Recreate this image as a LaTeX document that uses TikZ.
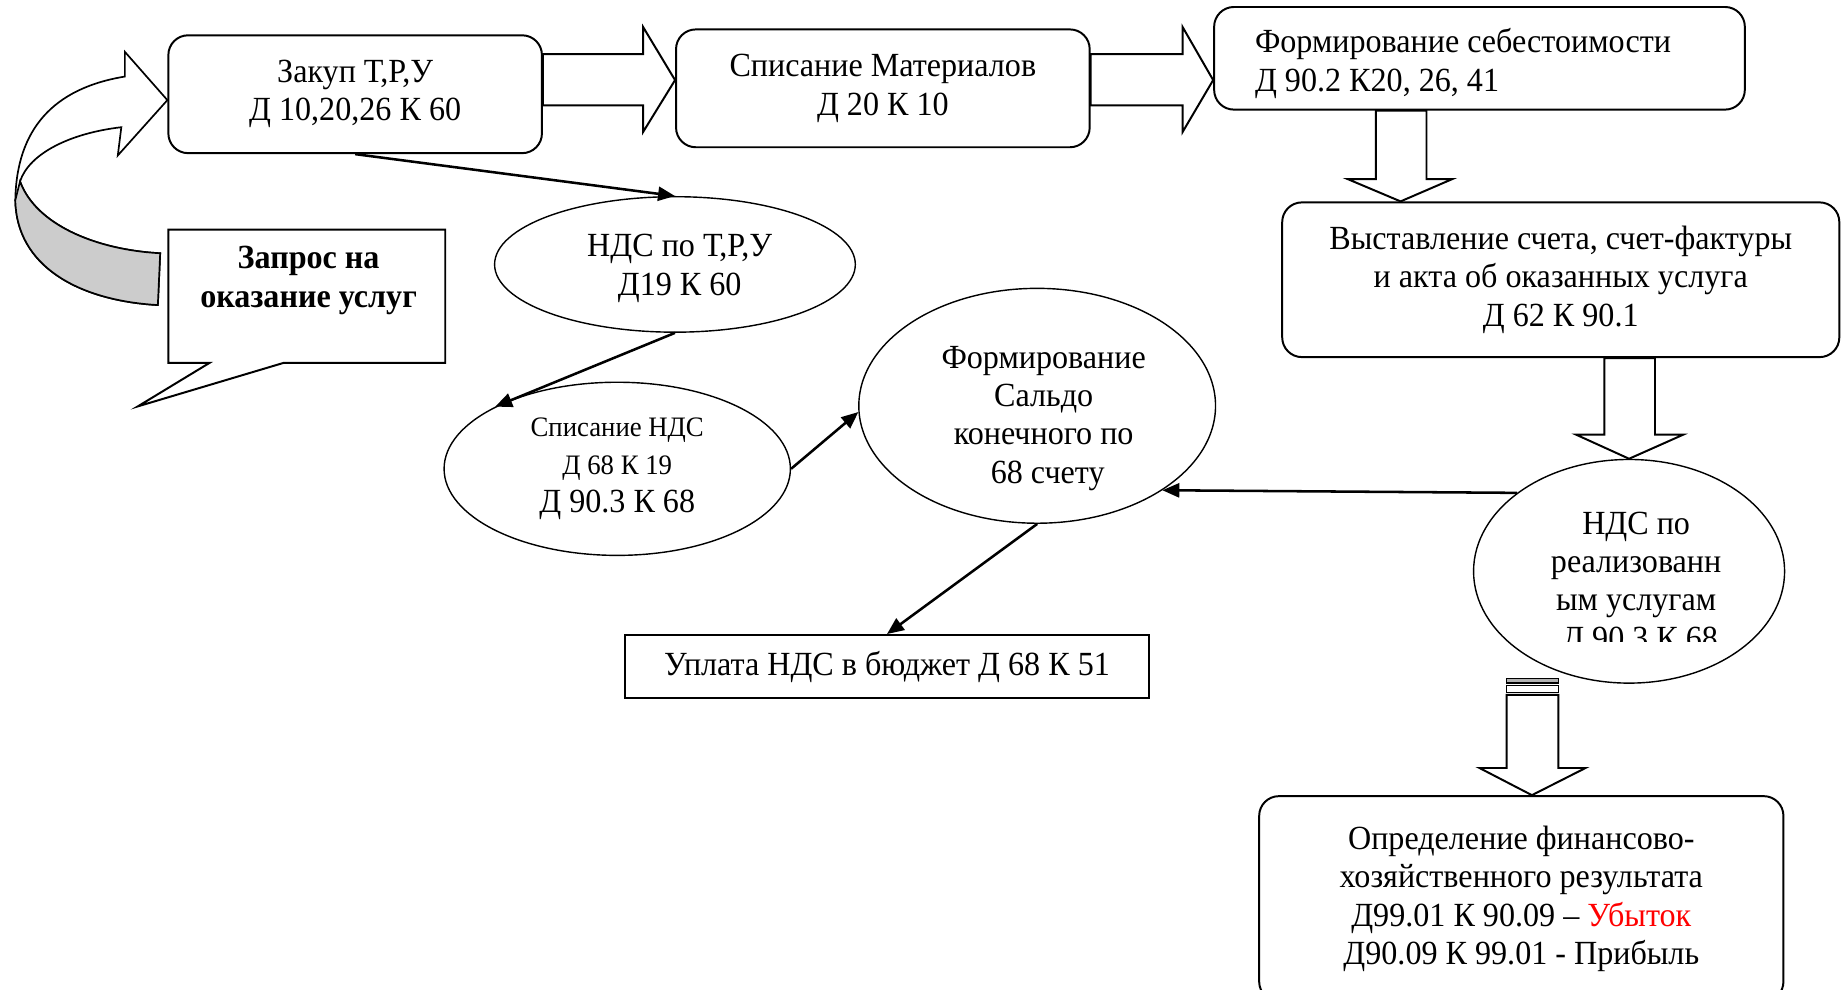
\documentclass[tikz,border=0pt]{standalone}
\usepackage{fontspec}
\setmainfont{Liberation Serif}[FakeStretch=0.95]
\usetikzlibrary{shapes.geometric,arrows.meta}

\newcommand{\mainsize}{\fontsize{12}{13.6}\selectfont}
\newcommand{\smallsize}{\fontsize{10}{11}\selectfont}

\tikzset{
	box/.style={draw,rounded corners=7pt,line width=0.7pt,align=center,font=\mainsize,inner sep=0pt},
	flatbox/.style={draw,line width=0.7pt,align=center,font=\mainsize,inner sep=0pt},
	oval/.style={draw,ellipse,line width=0.5pt,align=center,font=\mainsize,inner sep=0pt},
	fat/.style={draw,fill=white,line width=0.7pt},
	link/.style={->,line width=0.9pt,>={Triangle[length=6pt,width=5pt]}}
}

\begin{document}
\begin{tikzpicture}[x=0.0147cm,y=-0.0147cm]
		\useasboundingbox (0,0) rectangle (1568,840);
		\node[box,minimum width=4.66cm,minimum height=1.47cm] (zakup) at (301.5,80) {Закуп Т,Р,У\\ Д 10,20,26 К 60};
		\node[box,minimum width=5.16cm,minimum height=1.47cm] (spisanie) at (749.5,75) {Списание Материалов\\ Д 20 К 10};
		\node[box,minimum width=6.62cm,minimum height=1.28cm] (sebest) at (1256,49.5) {};
		\node[align=left,font=\mainsize,anchor=west] (sebesttext) at (1057,54) {Формирование себестоимости\\ Д 90.2 К20, 26, 41};
		\node[box,minimum width=6.95cm,minimum height=1.93cm] (schet) at (1325,237.5) {Выставление счета, счет-фактуры\\ и акта об оказанных услуга\\ Д 62 К 90.1};
		\node[box,minimum width=6.54cm,minimum height=2.56cm] (itog) at (1291.5,763) {Определение финансово-\\ хозяйственного результата\\ Д99.01 К 90.09 – \textcolor{red}{Убыток}\\ Д90.09 К 99.01 - Прибыль};
		\node[flatbox,minimum width=6.53cm,minimum height=0.79cm] (uplata) at (753,566) {Уплата НДС в бюджет Д 68 К 51};

		\node[oval,minimum width=4.50cm,minimum height=1.69cm] (ndsvh) at (573,224.5) {};
		\node[align=center,font=\mainsize] (ndsvhtext) at (577,228) {НДС по Т,Р,У\\ Д19 К 60};
		\node[oval,minimum width=4.32cm,minimum height=2.16cm] (spisnds) at (524,398) {\smallsize Списание НДС\\ \smallsize Д 68 К 19\\ Д 90.3 К 68};
		\node[oval,minimum width=4.45cm,minimum height=2.93cm] (saldo) at (880.5,344.5) {};
		\node[align=center,font=\mainsize] (saldotext) at (886,355) {Формирование\\ Сальдо\\ конечного по\\ \ 68 счету};
		\node[oval,minimum width=3.88cm,minimum height=2.79cm] (ndsreal) at (1383,485) {};
		\begin{scope}
			\clip (1250,380) rectangle (1520,545);
			\node[align=center,font=\mainsize] (ndsrealtext) at (1389,496) {НДС по\\ реализованн\\ ым услугам\\ \ Д 90.3 К 68};
		\end{scope}

		\draw[line width=0.7pt] (143,195) -- (378,195) -- (378,308) -- (241,308) -- (117,345) -- (178,308) -- (143,308) -- cycle;
		\node[font=\mainsize\bfseries,align=center] (zapros) at (262,238) {Запрос на\\ оказание услуг};

		\filldraw[fill=white,line width=0.6pt] (zakup.west |- 0,85) -- (106,44) -- (106,65) .. controls (45,75) and (14,110) .. (13,170) .. controls (14,225) and (65,255) .. (134,259) -- (136,215) .. controls (80,212) and (30,190) .. (17,154) .. controls (25,130) and (60,113) .. (103,108) -- (100,132) -- cycle;
		\filldraw[fill=gray!40,line width=0.6pt] (17,154) .. controls (30,190) and (80,212) .. (136,215) -- (134,259) .. controls (65,255) and (14,225) .. (13,170) -- cycle;

		\draw[fat] (zakup.east |- 0,46) -- (546,46) -- (546,23) -- (spisanie.west |- 0,68) -- (546,112) -- (546,89.5) -- (zakup.east |- 0,89.5) -- cycle;
		\draw[fat] (spisanie.east |- 0,46) -- (1004,46) -- (1004,23) -- (sebest.west |- 0,68) -- (1004,112) -- (1004,89.5) -- (spisanie.east |- 0,89.5) -- cycle;
		\draw[fat] (sebest.south -| 1168,0) -- (1168,152) -- (1144,152) -- (schet.north -| 1189,0) -- (1233,152) -- (1211,152) -- (sebest.south -| 1211,0) -- cycle;
		\draw[fat] (schet.south -| 1362,0) -- (1362,369) -- (1338,369) -- (ndsreal.north) -- (1429,369) -- (1405,369) -- (schet.south -| 1405,0) -- cycle;
		\filldraw[fill=gray!60,line width=0.6pt] (1279,576) rectangle (1323,580);
		\draw[line width=0.6pt] (1279,582) rectangle (1323,588);
		\draw[fat] (1279,590) -- (1279,652) -- (1256,652) -- (itog.north -| 1300.5,0) -- (1346,652) -- (1323,652) -- (1323,590) -- cycle;

		\draw[link] (zakup.south) -- (ndsvh.north);
		\draw[link] (ndsvh.south) -- (spisnds.153);
		\draw[link] (spisnds.east) -- (saldo.182);
		\draw[link] (ndsreal.145) -- (saldo.326);
		\draw[link] (saldo.south) -- (uplata.north);
\end{tikzpicture}
\end{document}
